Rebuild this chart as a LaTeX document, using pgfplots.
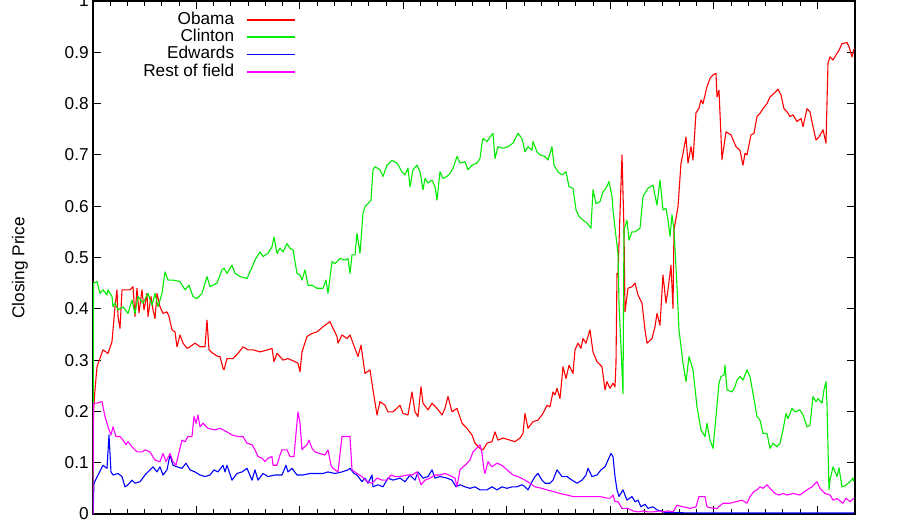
\documentclass[border=0pt]{standalone}
\usepackage{fontspec}
\setmainfont{Liberation Sans}
\usepackage{pgfplots}
\pgfplotsset{compat=1.18}
\definecolor{cObama}{RGB}{255,0,0}
\definecolor{cClinton}{RGB}{0,235,0}
\definecolor{cEdwards}{RGB}{0,0,255}
\definecolor{cRest}{RGB}{255,0,255}
\begin{document}
\begin{tikzpicture}
\begin{axis}[
  name=ax,
  scale only axis,
  width=381pt, height=256.5pt,
  xmin=0, xmax=762, ymin=0, ymax=1,
  xtick={0,103.5,207,310.5,414,517.5,621,724.5},
  minor x tick num=5,
  xticklabels={},
  ytick={0,0.1,...,1.0},
  yticklabels={0,0.1,0.2,0.3,0.4,0.5,0.6,0.7,0.8,0.9,1},
  tick align=inside,
  major tick length=4pt,
  minor tick length=2.5pt,
  every tick/.style={black, line width=0.5pt},
  axis line style={black, line width=0.6pt},
  /pgf/number format/assume math mode=true,
  tick label style={font=\fontsize{8.6}{10}\selectfont},
  yticklabel style={inner sep=0pt, xshift=-2pt},
  ylabel={Closing Price},
  ylabel style={font=\fontsize{8.6}{10}\selectfont, at={(axis description cs:-0.0958,0.48)}, anchor=center},
  legend cell align=right,
  legend plot pos=right,
  legend image code/.code={\draw[#1, line width=0.75pt] (0pt,0pt) -- (24pt,0pt);},
  legend style={draw=none, fill=none, at={(axis description cs:0.2743,0.9888)}, anchor=north east,
    font=\fontsize{8.6}{10}\selectfont, row sep=0pt, column sep=6pt,
    nodes={inner sep=0pt, text height=6.5pt, text depth=2.17pt}},
  every axis plot/.append style={line width=0.55pt, line join=round},
]
\addplot[cObama] coordinates {
(0,0) (0.5,0.2) (2,0.242) (4,0.287) (10,0.32) (15,0.313) (19,0.336) (22,0.404) (24,0.437) (25,0.385) (27,0.362) (29,0.437) (37,0.437) (40,0.443) (42,0.385) (44,0.44) (46,0.392) (49,0.437) (51,0.398) (54,0.43) (55,0.385) (58,0.424) (60,0.398) (62,0.381) (64,0.43) (67,0.404) (70,0.391) (74,0.394) (76,0.385) (79,0.359) (82,0.355) (84,0.326) (87,0.349) (90,0.333) (94,0.323) (97,0.326) (102,0.333) (107,0.326) (112,0.326) (114,0.378) (116,0.32) (120,0.313) (125,0.307) (127,0.307) (130,0.284) (131,0.281) (134,0.303) (140,0.303) (145,0.313) (150,0.326) (155,0.32) (160,0.32) (167,0.316) (175,0.32) (179,0.323) (181,0.297) (184,0.313) (187,0.307) (190,0.30) (195,0.303) (202,0.297) (205,0.294) (207,0.277) (209,0.316) (214,0.346) (219,0.352) (224,0.355) (230,0.365) (237,0.375) (240,0.362) (244,0.346) (245,0.333) (249,0.349) (254,0.342) (257,0.349) (260,0.333) (265,0.307) (268,0.329) (272,0.274) (277,0.281) (280,0.242) (284,0.193) (287,0.219) (292,0.212) (295,0.199) (300,0.199) (307,0.212) (310,0.196) (315,0.193) (319,0.238) (322,0.199) (325,0.19) (328,0.248) (330,0.216) (335,0.203) (339,0.216) (344,0.206) (349,0.193) (352,0.206) (355,0.229) (359,0.199) (364,0.206) (369,0.177) (374,0.167) (379,0.154) (382,0.138) (387,0.128) (390,0.125) (394,0.138) (399,0.141) (402,0.160) (405,0.144) (410,0.148) (417,0.144) (422,0.141) (427,0.148) (430,0.157) (432,0.196) (435,0.167) (440,0.18) (445,0.183) (450,0.196) (454,0.212) (457,0.209) (460,0.238) (462,0.232) (464,0.245) (467,0.225) (470,0.287) (473,0.264) (476,0.29) (480,0.274) (482,0.32) (485,0.333) (488,0.323) (490,0.342) (493,0.333) (497,0.359) (500,0.316) (504,0.297) (509,0.287) (512,0.242) (514,0.258) (517,0.245) (520,0.255) (522,0.248) (523,0.294) (524,0.469) (525,0.466) (527,0.586) (529,0.70) (531,0.554) (532,0.394) (535,0.44) (539,0.443) (542,0.45) (545,0.427) (549,0.411) (552,0.359) (554,0.333) (559,0.342) (562,0.365) (564,0.391) (567,0.368) (570,0.466) (573,0.411) (575,0.437) (578,0.485) (580,0.401) (581,0.554) (585,0.599) (588,0.684) (590,0.703) (593,0.735) (595,0.684) (598,0.716) (600,0.69) (603,0.782) (606,0.791) (608,0.807) (610,0.80) (614,0.833) (617,0.849) (620,0.856) (623,0.859) (624,0.813) (626,0.826) (629,0.691) (633,0.745) (638,0.739) (643,0.716) (647,0.709) (650,0.68) (652,0.703) (654,0.70) (658,0.739) (661,0.742) (664,0.775) (667,0.781) (670,0.79) (674,0.80) (677,0.813) (681,0.82) (685,0.828) (688,0.817) (691,0.79) (694,0.784) (697,0.775) (700,0.778) (704,0.765) (708,0.771) (710,0.755) (714,0.79) (717,0.784) (720,0.755) (723,0.729) (726,0.735) (730,0.749) (733,0.723) (735,0.879) (737,0.891) (740,0.885) (744,0.898) (746,0.904) (749,0.917) (754,0.919) (756,0.911) (759,0.891) (761,0.906)
};
\addlegendentry{Obama}
\addplot[cClinton] coordinates {
(0,0) (0.5,0.45) (4,0.453) (7,0.43) (10,0.437) (14,0.427) (15,0.437) (19,0.424) (20,0.404) (22,0.411) (25,0.398) (30,0.404) (35,0.391) (39,0.417) (42,0.391) (45,0.424) (50,0.411) (55,0.43) (59,0.407) (62,0.43) (65,0.404) (69,0.43) (72,0.472) (75,0.456) (80,0.456) (87,0.453) (92,0.437) (96,0.446) (100,0.424) (104,0.42) (109,0.43) (114,0.463) (117,0.443) (124,0.45) (129,0.476) (131,0.479) (134,0.469) (139,0.485) (142,0.469) (147,0.463) (154,0.459) (157,0.472) (162,0.495) (167,0.511) (170,0.502) (175,0.508) (179,0.521) (181,0.54) (184,0.508) (187,0.518) (190,0.511) (194,0.527) (197,0.518) (200,0.515) (204,0.469) (207,0.466) (209,0.456) (212,0.476) (215,0.446) (219,0.446) (224,0.44) (230,0.44) (233,0.456) (235,0.43) (239,0.492) (242,0.488) (247,0.498) (252,0.495) (255,0.498) (257,0.469) (259,0.505) (262,0.505) (264,0.547) (267,0.508) (270,0.586) (272,0.599) (275,0.605) (278,0.612) (280,0.671) (282,0.677) (287,0.671) (290,0.658) (294,0.68) (299,0.689) (304,0.684) (309,0.667) (312,0.661) (315,0.674) (317,0.638) (320,0.671) (324,0.68) (327,0.667) (330,0.632) (332,0.654) (335,0.645) (339,0.651) (342,0.638) (344,0.612) (347,0.667) (350,0.654) (354,0.658) (357,0.664) (360,0.674) (364,0.697) (367,0.684) (372,0.687) (375,0.671) (379,0.68) (384,0.684) (387,0.693) (389,0.723) (390,0.732) (394,0.726) (397,0.735) (400,0.742) (402,0.693) (405,0.716) (410,0.713) (415,0.716) (420,0.723) (425,0.742) (429,0.732) (432,0.706) (435,0.716) (439,0.709) (440,0.726) (444,0.706) (447,0.70) (452,0.697) (455,0.69) (459,0.716) (461,0.68) (465,0.667) (469,0.661) (473,0.667) (476,0.638) (480,0.635) (483,0.593) (486,0.58) (490,0.573) (494,0.567) (498,0.557) (500,0.632) (503,0.605) (507,0.609) (510,0.628) (513,0.635) (516,0.648) (519,0.619) (520,0.593) (523,0.541) (525,0.508) (526,0.411) (528,0.326) (530,0.235) (531,0.554) (534,0.573) (536,0.534) (539,0.55) (542,0.55) (547,0.557) (550,0.619) (555,0.635) (560,0.641) (564,0.602) (567,0.651) (570,0.593) (573,0.596) (575,0.573) (577,0.541) (579,0.583) (581,0.554) (584,0.443) (586,0.359) (590,0.294) (593,0.258) (596,0.307) (600,0.281) (604,0.209) (608,0.164) (612,0.151) (614,0.177) (617,0.144) (620,0.128) (623,0.19) (626,0.255) (628,0.268) (631,0.271) (632,0.29) (634,0.242) (639,0.238) (642,0.248) (644,0.261) (647,0.268) (650,0.261) (654,0.281) (657,0.268) (660,0.235) (664,0.19) (667,0.183) (670,0.157) (674,0.157) (677,0.128) (680,0.138) (684,0.131) (687,0.138) (690,0.164) (693,0.196) (695,0.186) (699,0.206) (702,0.199) (707,0.203) (710,0.193) (714,0.17) (717,0.173) (720,0.229) (723,0.219) (725,0.225) (729,0.216) (731,0.242) (733,0.258) (734,0.216) (736,0.047) (737,0.066) (740,0.092) (744,0.073) (746,0.09) (749,0.053) (752,0.055) (757,0.063) (760,0.07) (761,0.063)
};
\addlegendentry{Clinton}
\addplot[cEdwards] coordinates {
(0,0) (1,0.06) (5,0.076) (10,0.095) (14,0.089) (16,0.154) (18,0.082) (20,0.076) (25,0.079) (29,0.073) (32,0.053) (35,0.057) (39,0.066) (42,0.06) (47,0.063) (52,0.076) (57,0.086) (60,0.092) (64,0.082) (67,0.092) (70,0.076) (74,0.086) (77,0.115) (80,0.095) (84,0.092) (89,0.089) (93,0.099) (97,0.086) (102,0.082) (107,0.076) (112,0.073) (117,0.076) (121,0.086) (125,0.082) (130,0.095) (132,0.082) (134,0.095) (139,0.066) (144,0.079) (149,0.082) (154,0.089) (159,0.066) (162,0.086) (165,0.066) (170,0.079) (175,0.073) (182,0.076) (189,0.076) (193,0.095) (195,0.082) (199,0.089) (204,0.076) (210,0.076) (217,0.079) (224,0.079) (230,0.079) (235,0.082) (242,0.079) (249,0.082) (255,0.086) (257,0.089) (261,0.079) (264,0.076) (269,0.063) (272,0.07) (275,0.06) (279,0.076) (280,0.053) (285,0.057) (290,0.053) (295,0.07) (300,0.066) (307,0.07) (312,0.063) (317,0.076) (322,0.066) (325,0.082) (330,0.07) (335,0.073) (339,0.086) (342,0.07) (347,0.073) (354,0.07) (359,0.066) (363,0.053) (367,0.057) (372,0.053) (377,0.05) (382,0.053) (387,0.047) (394,0.047) (399,0.053) (404,0.047) (409,0.053) (414,0.05) (419,0.053) (424,0.053) (429,0.057) (432,0.053) (435,0.047) (439,0.063) (442,0.073) (445,0.079) (449,0.066) (452,0.06) (457,0.06) (460,0.066) (464,0.086) (469,0.073) (474,0.073) (479,0.066) (484,0.06) (489,0.066) (493,0.076) (495,0.089) (499,0.073) (504,0.076) (508,0.086) (512,0.092) (515,0.105) (518,0.118) (520,0.112) (522,0.073) (524,0.047) (526,0.034) (530,0.047) (534,0.027) (539,0.034) (542,0.024) (545,0.027) (548,0.014) (552,0.019) (555,0.011) (560,0.014) (564,0.008) (568,0.006) (572,0.003) (600,0.002) (650,0.002) (700,0.002) (761,0.002)
};
\addlegendentry{Edwards}
\addplot[cRest] coordinates {
(0,0) (0.5,0.216) (4,0.216) (9,0.219) (12,0.19) (15,0.17) (18,0.154) (20,0.17) (23,0.151) (27,0.151) (30,0.144) (33,0.135) (35,0.141) (39,0.131) (44,0.121) (49,0.121) (52,0.125) (57,0.121) (62,0.105) (67,0.102) (70,0.118) (73,0.102) (77,0.118) (80,0.102) (83,0.095) (85,0.112) (89,0.144) (92,0.141) (95,0.151) (99,0.151) (101,0.19) (103,0.177) (105,0.193) (107,0.17) (110,0.177) (115,0.167) (122,0.164) (127,0.167) (134,0.16) (139,0.154) (145,0.151) (150,0.151) (154,0.138) (159,0.135) (162,0.125) (165,0.112) (169,0.109) (172,0.102) (175,0.109) (179,0.112) (180,0.095) (184,0.095) (187,0.115) (189,0.125) (194,0.125) (197,0.112) (201,0.112) (203,0.157) (205,0.199) (207,0.177) (209,0.125) (210,0.128) (214,0.135) (216,0.144) (219,0.128) (222,0.121) (227,0.118) (232,0.115) (235,0.125) (238,0.095) (240,0.089) (245,0.082) (249,0.151) (257,0.151) (259,0.086) (264,0.079) (269,0.073) (274,0.063) (279,0.06) (284,0.07) (289,0.066) (294,0.066) (298,0.076) (302,0.073) (307,0.073) (314,0.076) (319,0.076) (324,0.082) (328,0.057) (332,0.066) (337,0.07) (342,0.076) (347,0.076) (352,0.079) (357,0.075) (362,0.07) (364,0.053) (367,0.086) (370,0.092) (372,0.095) (377,0.105) (380,0.121) (385,0.131) (387,0.135) (389,0.118) (391,0.086) (392,0.079) (395,0.102) (399,0.092) (404,0.099) (409,0.095) (414,0.086) (420,0.076) (425,0.073) (432,0.066) (437,0.06) (442,0.053) (449,0.05) (454,0.047) (460,0.044) (467,0.04) (474,0.037) (480,0.034) (487,0.034) (494,0.034) (500,0.034) (507,0.034) (514,0.031) (517,0.031) (520,0.037) (522,0.024) (525,0.024) (529,0.011) (535,0.011) (540,0.006) (545,0.004) (550,0.006) (555,0.004) (560,0.004) (567,0.006) (570,0.004) (575,0.006) (580,0.004) (584,0.017) (590,0.014) (597,0.011) (603,0.014) (606,0.034) (612,0.034) (614,0.014) (620,0.011) (624,0.011) (630,0.021) (637,0.021) (643,0.024) (649,0.027) (654,0.021) (657,0.034) (661,0.044) (664,0.047) (667,0.053) (670,0.05) (674,0.057) (677,0.05) (682,0.04) (686,0.037) (690,0.04) (694,0.037) (700,0.04) (707,0.037) (714,0.047) (719,0.053) (724,0.063) (727,0.05) (732,0.04) (737,0.037) (740,0.027) (744,0.03) (750,0.021) (753,0.031) (757,0.024) (761,0.031)
};
\addlegendentry{Rest of field}
\end{axis}
\pgfresetboundingbox
\useasboundingbox ([xshift=-46.5pt,yshift=-3.5pt]ax.south west) rectangle ([xshift=34pt,yshift=0.5pt]ax.north east);
\end{tikzpicture}
\end{document}
